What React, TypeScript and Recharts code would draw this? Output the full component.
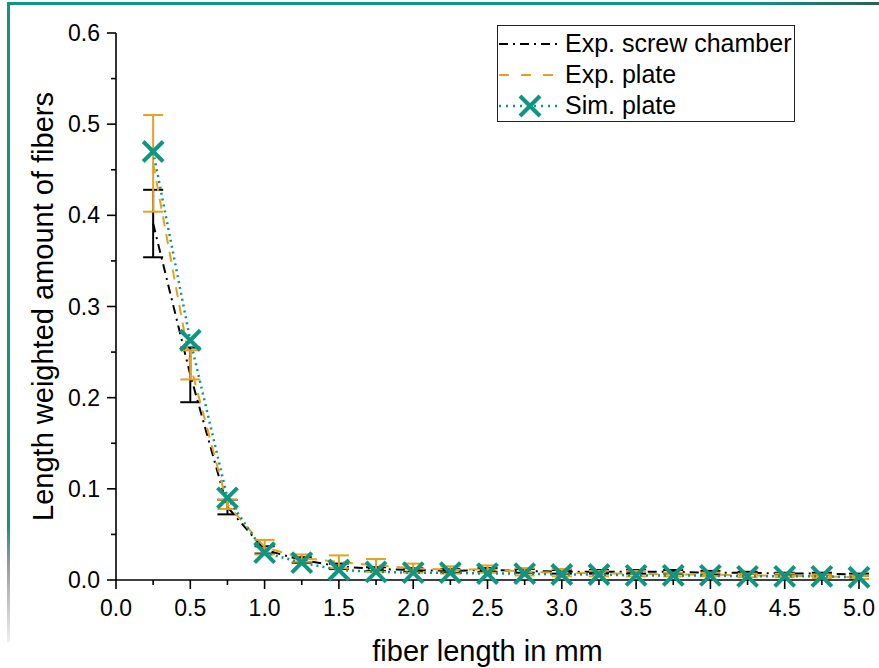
import { LineChart, Line, XAxis, YAxis, ErrorBar } from "recharts";

const lengths = [0.25, 0.5, 0.75, 1.0, 1.25, 1.5, 1.75, 2.0, 2.25, 2.5, 2.75, 3.0, 3.25, 3.5, 3.75, 4.0, 4.25, 4.5, 4.75, 5.0];
const screwChamber = [0.391, 0.225, 0.08, 0.033, 0.022, 0.015, 0.012, 0.011, 0.01, 0.011, 0.01, 0.009, 0.009, 0.009, 0.009, 0.008, 0.008, 0.007, 0.007, 0.006];
const screwChamberErr = [0.037, 0.03, 0.008, 0.004, 0.003, 0.003, 0.002, 0.002, 0.002, 0.002, 0.002, 0.002, 0.002, 0.002, 0.002, 0.002, 0.001, 0.001, 0.001, 0.001];
const expPlate = [0.457, 0.236, 0.083, 0.036, 0.024, 0.02, 0.016, 0.013, 0.011, 0.012, 0.009, 0.008, 0.007, 0.007, 0.006, 0.006, 0.005, 0.005, 0.004, 0.003];
const expPlateErr = [0.053, 0.016, 0.005, 0.008, 0.004, 0.007, 0.007, 0.005, 0.004, 0.004, 0.004, 0.004, 0.003, 0.003, 0.002, 0.002, 0.002, 0.002, 0.002, 0.002];
const simPlate = [0.47, 0.263, 0.09, 0.03, 0.019, 0.011, 0.009, 0.008, 0.008, 0.007, 0.007, 0.006, 0.006, 0.005, 0.005, 0.005, 0.004, 0.004, 0.004, 0.003];

const xTicks = [0, 0.25, 0.5, 0.75, 1, 1.25, 1.5, 1.75, 2, 2.25, 2.5, 2.75, 3, 3.25, 3.5, 3.75, 4, 4.25, 4.5, 4.75, 5];
const yTicks = [0, 0.05, 0.1, 0.15, 0.2, 0.25, 0.3, 0.35, 0.4, 0.45, 0.5, 0.55, 0.6];

const data = lengths.map((x, i) => ({
  x,
  screw: screwChamber[i],
  screwErr: screwChamberErr[i],
  plate: expPlate[i],
  plateErr: expPlateErr[i],
  sim: simPlate[i],
}));

const FONT = '"Liberation Sans", Arial, sans-serif';
const TEAL = "#0f9682";
const ORANGE = "#e69f1e";

function isMajor(v: number, step: number) {
  const r = v / step;
  return Math.abs(r - Math.round(r)) < 1e-6;
}

function XTick(props: any) {
  const { x, y, payload } = props;
  const major = isMajor(payload.value, 0.5);
  return (
    <g>
      <line x1={x} y1={y} x2={x} y2={y + (major ? 9 : 5)} stroke="#000" strokeWidth={1.6} />
      {major && (
        <text x={x} y={y + 36} textAnchor="middle" fontSize={23} fontFamily={FONT} fill="#000">
          {payload.value.toFixed(1)}
        </text>
      )}
    </g>
  );
}

function YTick(props: any) {
  const { x, y, payload } = props;
  const major = isMajor(payload.value, 0.1);
  return (
    <g>
      <line x1={x} y1={y} x2={x - (major ? 9 : 5)} y2={y} stroke="#000" strokeWidth={1.6} />
      {major && (
        <text x={x - 16} y={y + 8} textAnchor="end" fontSize={23} fontFamily={FONT} fill="#000">
          {payload.value.toFixed(1)}
        </text>
      )}
    </g>
  );
}

function Cross(props: any) {
  const { cx, cy } = props;
  if (cx == null || cy == null) return null;
  const s = 10;
  return (
    <g>
      <line x1={cx - s} y1={cy - s} x2={cx + s} y2={cy + s} stroke={TEAL} strokeWidth={4} />
      <line x1={cx - s} y1={cy + s} x2={cx + s} y2={cy - s} stroke={TEAL} strokeWidth={4} />
    </g>
  );
}

function LegendBox() {
  const row = (label: string, sample: any) => (
    <div style={{ display: "flex", alignItems: "center", height: 31 }}>
      <svg width={62} height={26} style={{ marginRight: 5 }}>
        {sample}
      </svg>
      <span style={{ fontSize: 25, fontFamily: FONT, color: "#000", whiteSpace: "nowrap" }}>{label}</span>
    </div>
  );
  return (
    <div
      style={{
        position: "absolute",
        left: 497,
        top: 25,
        width: 298,
        height: 97,
        border: "1px solid #222",
        background: "#fff",
        padding: "2px 0 0 0",
        boxSizing: "border-box",
      }}
    >
      {row("Exp. screw chamber", <line x1={1} y1={13} x2={60} y2={13} stroke="#000" strokeWidth={2} strokeDasharray="9 5 2 5" />)}
      {row("Exp. plate", <line x1={1} y1={13} x2={60} y2={13} stroke={ORANGE} strokeWidth={2} strokeDasharray="10 12" />)}
      {row(
        "Sim. plate",
        <g>
          <line x1={1} y1={13} x2={60} y2={13} stroke={TEAL} strokeWidth={2.5} strokeDasharray="2 5" />
          <Cross cx={32} cy={13} />
        </g>
      )}
    </div>
  );
}

function YTitle(props: any) {
  const { viewBox } = props;
  const cx = 43;
  const cy = viewBox.y + viewBox.height / 2;
  return (
    <text x={cx} y={cy} transform={`rotate(-90 ${cx} ${cy})`} textAnchor="middle" dominantBaseline="central" fontSize={29} fontFamily={FONT} fill="#000">
      Length weighted amount of fibers
    </text>
  );
}

function XTitle(props: any) {
  const { viewBox } = props;
  const cx = viewBox.x + viewBox.width / 2;
  return (
    <text x={cx} y={661} textAnchor="middle" fontSize={29} fontFamily={FONT} fill="#000">
      fiber length in mm
    </text>
  );
}

export default function App() {
  return (
    <div style={{ position: "absolute", left: 0, top: 0, width: 879, height: 668, background: "#fff" }}>
      <div style={{ position: "absolute", left: 7, top: 2, width: 872, height: 3, background: `linear-gradient(to right, ${TEAL} 0%, ${TEAL} 85%, #2b5f58 100%)` }} />
      <div style={{ position: "absolute", left: 7, top: 2, width: 3, height: 640, background: `linear-gradient(to bottom, ${TEAL} 0%, ${TEAL} 82%, #9a9a9a 88%, #f0f0f0 100%)` }} />
      <LineChart width={879} height={668} data={data} margin={{ top: 33, right: 20, bottom: 0, left: 0 }}>
        <XAxis
          dataKey="x"
          type="number"
          domain={[0, 5]}
          ticks={xTicks}
          interval={0}
          tickSize={0}
          tickMargin={0}
          tick={<XTick />}
          axisLine={{ stroke: "#000", strokeWidth: 1.6 }}
          height={88}
          label={<XTitle />}
        />
        <YAxis
          type="number"
          domain={[0, 0.6]}
          ticks={yTicks}
          interval={0}
          tickSize={0}
          tickMargin={0}
          tick={<YTick />}
          axisLine={{ stroke: "#000", strokeWidth: 1.6 }}
          width={116}
          label={<YTitle />}
        />
        <Line
          dataKey="screw"
          name="Exp. screw chamber"
          stroke="#000"
          strokeWidth={2}
          strokeDasharray="9 5 2 5"
          dot={false}
          activeDot={false}
          isAnimationActive={false}
        >
          <ErrorBar dataKey="screwErr" direction="y" width={10} stroke="#000" strokeWidth={2} />
        </Line>
        <Line
          dataKey="plate"
          name="Exp. plate"
          stroke={ORANGE}
          strokeWidth={2}
          strokeDasharray="10 8"
          dot={false}
          activeDot={false}
          isAnimationActive={false}
        >
          <ErrorBar dataKey="plateErr" direction="y" width={10} stroke={ORANGE} strokeWidth={2} />
        </Line>
        <Line
          dataKey="sim"
          name="Sim. plate"
          stroke={TEAL}
          strokeWidth={2.5}
          strokeDasharray="2 4"
          dot={<Cross />}
          activeDot={false}
          isAnimationActive={false}
        />
      </LineChart>
      <LegendBox />
    </div>
  );
}
